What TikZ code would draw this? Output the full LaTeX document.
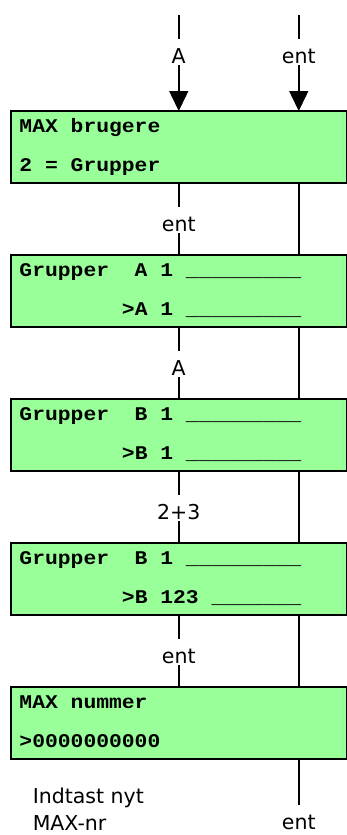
\documentclass[tikz,border=0pt]{standalone}
\usepackage{fontspec}
\setmainfont{DejaVu Sans}
\newfontfamily\lcdfont[FakeStretch=1.1]{Liberation Mono}
\usetikzlibrary{positioning,calc,arrows.meta}
\definecolor{lcdgreen}{RGB}{153,255,153}

\begin{document}
\begin{tikzpicture}[x=1pt, y=1pt, line width=1.5pt, node distance=72pt,
  display/.style={draw, fill=lcdgreen, outer sep=0pt, minimum width=336pt, minimum height=72pt},
  row/.style={anchor=base west, inner sep=0pt, font=\lcdfont\bfseries\fontsize{19.4}{22}\selectfont},
  key/.style={fill=white, inner xsep=1pt, inner ysep=1.5pt, text height=23pt, text depth=0pt, font=\fontsize{20.5}{29}\selectfont},
  flow/.style={-{Triangle[width=19pt,length=20pt]}}]

  \useasboundingbox (0,0) rectangle (347,-835);

  % Displays
  \node[display] (D1) at (178.75,-147) {};
  \node[display, below=of D1] (D2) {};
  \node[display, below=of D2] (D3) {};
  \node[display, below=of D3] (D4) {};
  \node[display, below=of D4] (D5) {};

  % Display texts
  \node[row] (D1a) at ($(D1.north west)+(8,-21)$) {MAX brugere};
  \node[row] (D1b) at ($(D1.north west)+(8,-60)$) {2 = Grupper};
  \node[row] (D2a) at ($(D2.north west)+(8,-21)$) {Grupper~~A~1~\_\_\_\_\_\_\_\_\_};
  \node[row] (D2b) at ($(D2.north west)+(8,-60)$) {~~~~~~~~>A~1~\_\_\_\_\_\_\_\_\_};
  \node[row] (D3a) at ($(D3.north west)+(8,-21)$) {Grupper~~B~1~\_\_\_\_\_\_\_\_\_};
  \node[row] (D3b) at ($(D3.north west)+(8,-60)$) {~~~~~~~~>B~1~\_\_\_\_\_\_\_\_\_};
  \node[row] (D4a) at ($(D4.north west)+(8,-21)$) {Grupper~~B~1~\_\_\_\_\_\_\_\_\_};
  \node[row] (D4b) at ($(D4.north west)+(8,-60)$) {~~~~~~~~>B~123~\_\_\_\_\_\_\_};
  \node[row] (D5a) at ($(D5.north west)+(8,-21)$) {MAX nummer};
  \node[row] (D5b) at ($(D5.north west)+(8,-60)$) {>0000000000};

  % Keys in
  \coordinate (inA) at (178.75,-15);
  \coordinate (inEnt) at (298.75,-15);
  \draw[flow] (inA) -- node[key, anchor=base] {A} (D1.north);
  \draw[flow] (inEnt) -- node[key, anchor=base] {ent} ([xshift=120pt]D1.north);

  % Left line
  \draw (D1.south) -- node[key, pos=0.67, anchor=base] {ent} (D2.north);
  \draw (D2.south) -- node[key, pos=0.67, anchor=base] {A} (D3.north);
  \draw (D3.south) -- node[key, pos=0.67, anchor=base] {2+3} (D4.north);
  \draw (D4.south) -- node[key, pos=0.67, anchor=base] {ent} (D5.north);

  % Right line
  \draw ([xshift=120pt]D1.south) -- ([xshift=120pt]D2.north);
  \draw ([xshift=120pt]D2.south) -- ([xshift=120pt]D3.north);
  \draw ([xshift=120pt]D3.south) -- ([xshift=120pt]D4.north);
  \draw ([xshift=120pt]D4.south) -- ([xshift=120pt]D5.north);

  % Out
  \coordinate (outEnt) at ($(D5.south)+(120,-47)$);
  \draw ([xshift=120pt]D5.south) -- (outEnt);
  \node[key, below=-2pt of outEnt] (outLbl) {ent};
  \node[anchor=base west, align=left, inner sep=0pt, font=\fontsize{20.5}{27}\selectfont] (hint) at (32,-830) {Indtast nyt\\MAX-nr};

\end{tikzpicture}
\end{document}
